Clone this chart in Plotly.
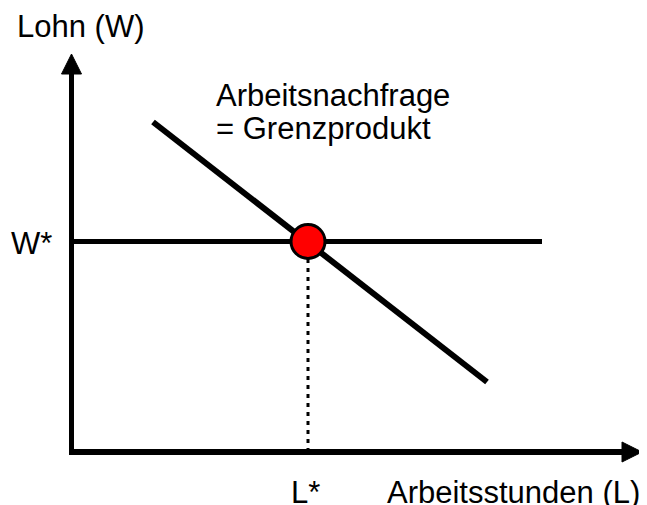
import plotly.graph_objects as go

# Conceptual data (units: origin at the axes' crossing)
demand_x = [81.5, 415.5]          # labour demand = marginal product
demand_y = [330, 70]
wage_star = 210.5                 # W*
wage_line_x = [0, 470.5]
L_star = 236.5                    # L*
y_axis_top = 378
x_axis_right = 550.5
arrow_len = 20
arrow_half = 10

FONT = "Liberation Sans, Arial, sans-serif"
fs = 31

fig = go.Figure()

# axes lines
fig.add_trace(go.Scatter(x=[0, 0], y=[-3, y_axis_top], mode="lines",
                         line=dict(color="black", width=5), hoverinfo="skip"))
fig.add_trace(go.Scatter(x=[-2.5, x_axis_right], y=[0, 0], mode="lines",
                         line=dict(color="black", width=6), hoverinfo="skip"))
# arrow heads
fig.add_trace(go.Scatter(x=[-arrow_half, arrow_half, 0, -arrow_half],
                         y=[y_axis_top, y_axis_top, y_axis_top + arrow_len, y_axis_top],
                         mode="lines", fill="toself", fillcolor="black",
                         line=dict(color="black", width=1), hoverinfo="skip"))
fig.add_trace(go.Scatter(x=[x_axis_right, x_axis_right, x_axis_right + arrow_len, x_axis_right],
                         y=[-arrow_half, arrow_half, 0, -arrow_half],
                         mode="lines", fill="toself", fillcolor="black",
                         line=dict(color="black", width=1), hoverinfo="skip"))

# dotted line at L*
fig.add_trace(go.Scatter(x=[L_star, L_star], y=[0, wage_star], mode="lines",
                         line=dict(color="black", width=3, dash="4px,5px"), hoverinfo="skip"))
# wage line
fig.add_trace(go.Scatter(x=wage_line_x, y=[wage_star, wage_star], mode="lines",
                         line=dict(color="black", width=5), hoverinfo="skip"))
# demand curve
fig.add_trace(go.Scatter(x=demand_x, y=demand_y, mode="lines",
                         line=dict(color="black", width=6), hoverinfo="skip"))
# equilibrium
fig.add_trace(go.Scatter(x=[L_star], y=[wage_star], mode="markers",
                         marker=dict(size=34, color="#ff0000", line=dict(color="black", width=3)),
                         hoverinfo="skip"))

annotations = [
    dict(x=-56.5, y=426, text="Lohn (W)", xanchor="left"),
    dict(x=-17.5, y=209, text="W*", xanchor="right"),
    dict(x=217.5, y=-40, text="L*", xanchor="left"),
    dict(x=313.5, y=-40, text="Arbeitsstunden (L)", xanchor="left"),
    dict(x=142.5, y=357, text="Arbeitsnachfrage", xanchor="left"),
    dict(x=142.5, y=324, text="= Grenzprodukt", xanchor="left"),
]
for a in annotations:
    fig.add_annotation(x=a["x"], y=a["y"], text=a["text"], xanchor=a["xanchor"],
                       yanchor="middle", showarrow=False,
                       font=dict(family=FONT, size=fs, color="black"))

# the page body has an 8px margin; the figure is sized and ranged to compensate
fig.update_layout(
    width=639, height=497,
    margin=dict(l=0, r=0, t=0, b=0),
    paper_bgcolor="white", plot_bgcolor="white",
    showlegend=False,
    xaxis=dict(range=[-63.5, 575.5], visible=False, fixedrange=True),
    yaxis=dict(range=[-53, 444], visible=False, fixedrange=True),
)

fig.write_html("out.html")
